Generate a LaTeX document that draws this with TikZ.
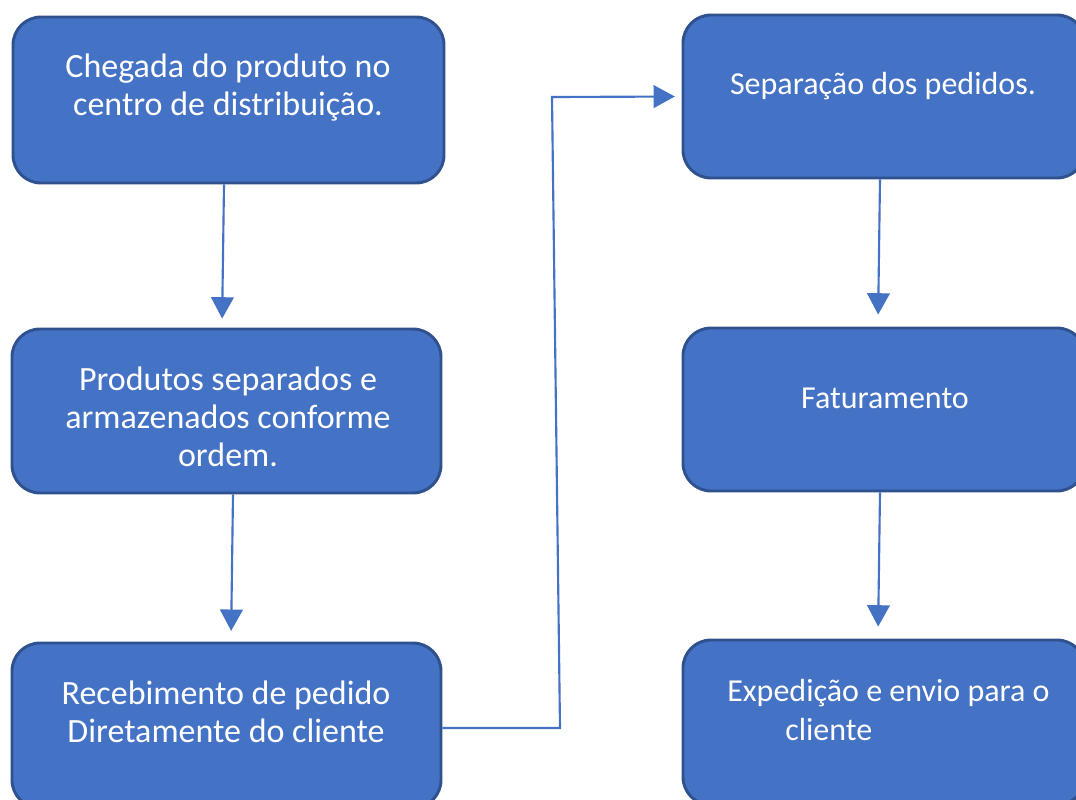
\documentclass[tikz,border=0pt]{standalone}
\usepackage{fontspec}
\setmainfont{Carlito}
\usetikzlibrary{arrows.meta,calc}
\definecolor{boxfill}{HTML}{4472C4}
\definecolor{boxline}{HTML}{2F528F}
\definecolor{arrowcol}{HTML}{4472C4}
\begin{document}
\begin{tikzpicture}[x=0.75pt,y=-0.75pt,
  box/.style={draw=boxline, fill=boxfill, line width=2.2pt, rounded corners=21pt, inner sep=0pt},
  lbl/.style={text=white, font=\fontsize{24}{28.5}\selectfont, align=center, inner sep=0pt},
  lblL/.style={lbl, font=\fontsize{25.5}{28.5}\selectfont},
  arr/.style={draw=arrowcol, line width=1.6pt, -{Triangle[width=17pt,length=16pt]}}]
\useasboundingbox (0,0) rectangle (1076,800);
\clip (0,0) rectangle (1076,800);
\fill[white] (0,0) rectangle (1076,800);
% boxes
\node[box, minimum width=323.25pt, minimum height=124.5pt] (b1) at (228.5,100) {};
\node[box, minimum width=321.75pt, minimum height=123pt] (b2) at (226.5,411) {};
\node[box, minimum width=321.75pt, minimum height=123.75pt] (b3) at (226.5,725.5) {};
\node[box, minimum width=301.5pt, minimum height=122.25pt] (b4) at (884,96.5) {};
\node[box, minimum width=301.5pt, minimum height=122.25pt] (b5) at (884,409.5) {};
\node[box, minimum width=301.5pt, minimum height=123.75pt] (b6) at (884,722.5) {};
% texts
\node[lblL] (t1) at (228,88) {Chegada do produto no\\centro de distribuição.};
\node[lblL] (t2) at (228,417) {Produtos separados e\\armazenados conforme\\ordem.};
\node[lblL] (t3) at (226,712) {Recebimento de pedido\\Diretamente do cliente};
\node[lbl] (t4) at (883,86) {Separação dos pedidos.};
\node[lbl] (t5) at (885,398) {Faturamento};
\node[lbl, align=left, anchor=west] (t6) at (727,710) {Expedição e envio para o\\\hspace*{43.5pt}cliente};
% connectors
\draw[arr, shorten >=6.75pt] ($(b1.south)+(-4.5,0)$) -- ($(b2.north)+(-4.5,0)$);
\draw[arr, shorten >=8pt] ($(b2.south)+(6.5,0)$) -- ($(b3.north)+(4.5,0)$);
\coordinate (c1) at (560,728);
\coordinate (c2) at (552,97);
\draw[arr, shorten >=5pt] ($(b3.east)+(0,2.5)$) -- (c1) -- (c2) -- (b4.west);
\draw[arr, shorten >=9pt] ($(b4.south)+(-4,0)$) -- ($(b5.north)+(-6,0)$);
\draw[arr, shorten >=9pt] ($(b5.south)+(-4,0)$) -- ($(b6.north)+(-6,0)$);
\end{tikzpicture}
\end{document}
